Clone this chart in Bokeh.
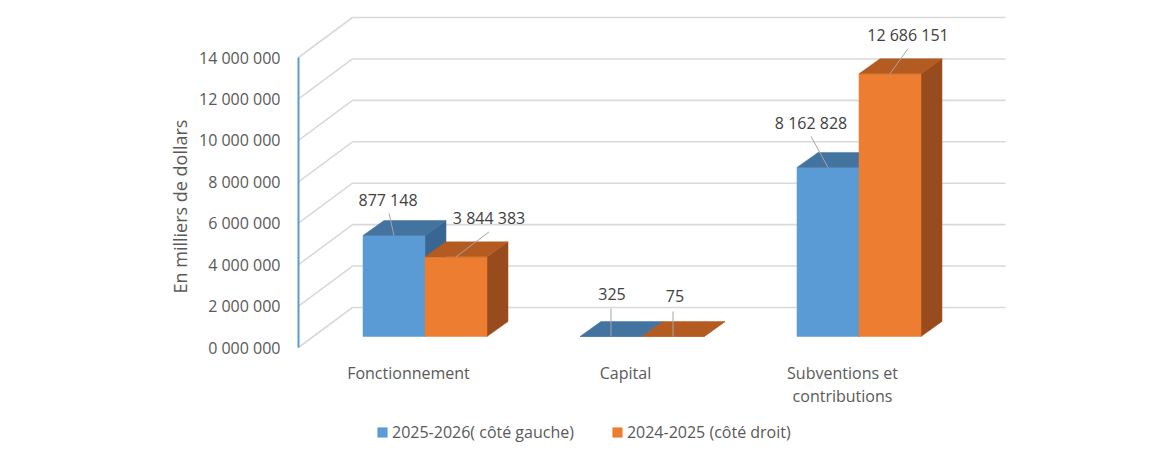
from bokeh.plotting import figure
from bokeh.models import Range1d, FixedTicker, Legend, LegendItem, Title
from bokeh.embed import file_html
from bokeh.resources import INLINE
from bokeh.core.properties import value

# ---------------- data ----------------
CATEGORIES = ["Fonctionnement", "Capital", "Subventions et\ncontributions"]
SERIES_NAMES = ["2025-2026( côté gauche)", "2024-2025 (côté droit)"]
VALUES_2025_2026 = [4877148, 325, 8162828]
VALUES_2024_2025 = [3844383, 75, 12686151]
LABELS_2025_2026 = ["877 148", "325", "8 162 828"]
LABELS_2024_2025 = ["3 844 383", "75", "12 686 151"]
Y_TICKS = [0, 2000000, 4000000, 6000000, 8000000, 10000000, 12000000, 14000000]
Y_TICK_LABELS = ["0 000 000", "2 000 000", "4 000 000", "6 000 000",
                 "8 000 000", "10 000 000", "12 000 000", "14 000 000"]
Y_AXIS_TITLE = "En milliers de dollars"

# ---------------- styles ----------------
FRONT = ["#5b9bd5", "#ed7d31"]
TOP = ["#43739f", "#b45b21"]
SIDE = ["#3a6791", "#984c1d"]
GRID = "#d9d9d9"
TEXT = "#595959"
LABEL_TEXT = "#404040"
FONT = "Open Sans"

# geometry (pixel based oblique projection)
PX_PER_CAT = 217.0
V_PER_PX = 14e6 / 290.0
FRAME_W, FRAME_H = 714, 433


def px_x(n):
    return n / PX_PER_CAT


def px_y(n):
    return n * V_PER_PX


X_START = px_x(-112)
Y_START = px_y(-96)
WALL_X = px_x(-110)
WALL_END = px_x(597)
DEPTH_X, DEPTH_Y = px_x(54), px_y(40)
BAR_W = px_x(62)
FRONT_X, FRONT_Y = px_x(16.5), px_y(11)
BDX, BDY = px_x(21), px_y(15)
CAT_LABEL_Y = px_y(-14)

# label offsets (px, up positive): text centre and leader start
LABEL_OFF = [[(-6, 35), (1, 42), (-17, 44)], [(33, 39), (2, 40), (18, 39)]]
LEADER_OFF = [[(-5, 22), (0, 28), (-17, 31)], [(33, 25), (0, 25), (18, 25)]]

p = figure(width=1154, height=443,
           x_range=Range1d(X_START, X_START + px_x(FRAME_W)),
           y_range=Range1d(Y_START, Y_START + px_y(FRAME_H)),
           output_backend="svg", toolbar_location=None,
           min_border_left=296, min_border_right=144,
           min_border_top=10, min_border_bottom=0)
p.title.visible = False
p.outline_line_color = None
p.grid.visible = False
p.background_fill_color = "white"
p.border_fill_color = "white"

# walls / gridlines
gx, gy = [], []
for t in Y_TICKS:
    gx.append([WALL_X, WALL_X + DEPTH_X, WALL_END])
    gy.append([t, t + DEPTH_Y, t + DEPTH_Y])
p.multi_line(gx, gy, line_color=GRID, line_width=1.6)
# blue vertical axis line at front-left
p.line([WALL_X, WALL_X], [Y_TICKS[0], Y_TICKS[-1]], line_color="#5b9bd5", line_width=2)

# bars
series_values = [VALUES_2025_2026, VALUES_2024_2025]
series_labels = [LABELS_2025_2026, LABELS_2024_2025]
front_renderers = []
for s, vals in enumerate(series_values):
    lefts, rights, bottoms, tops = [], [], [], []
    side_xs, side_ys, top_xs, top_ys = [], [], [], []
    for i, v in enumerate(vals):
        L = i - BAR_W + s * BAR_W + FRONT_X
        R = L + BAR_W
        B = FRONT_Y
        T = v + FRONT_Y
        lefts.append(L); rights.append(R); bottoms.append(B); tops.append(T)
        side_xs.append([R, R + BDX, R + BDX, R])
        side_ys.append([B, B + BDY, T + BDY, T])
        top_xs.append([L, R, R + BDX, L + BDX])
        top_ys.append([T, T, T + BDY, T + BDY])
    p.patches(side_xs, side_ys, fill_color=SIDE[s], line_color=SIDE[s], line_width=0.5)
    fr = p.quad(left=lefts, right=rights, bottom=bottoms, top=tops,
                fill_color=FRONT[s], line_color=FRONT[s], line_width=0.5)
    front_renderers.append(fr)
    p.patches(top_xs, top_ys, fill_color=TOP[s], line_color=TOP[s], line_width=0.5)

# data labels with leader lines
for s, vals in enumerate(series_values):
    lx, ly, x0, y0, x1, y1 = [], [], [], [], [], []
    for i, v in enumerate(vals):
        cx = i - BAR_W + s * BAR_W + FRONT_X + BAR_W / 2
        cy = v + FRONT_Y
        dx, dy = LABEL_OFF[s][i]
        lx.append(cx + px_x(dx)); ly.append(cy + px_y(dy))
        ldx, ldy = LEADER_OFF[s][i]
        x0.append(cx + px_x(ldx)); y0.append(cy + px_y(ldy))
        x1.append(cx); y1.append(cy)
    p.segment(x0, y0, x1, y1, line_color="#a6a6a6", line_width=1)
    p.text(lx, ly, text=series_labels[s], text_font=value(FONT), text_font_size="16px",
           text_color=LABEL_TEXT, text_align="center", text_baseline="middle")

# category labels (front floor)
p.text(list(range(len(CATEGORIES))), [CAT_LABEL_Y] * len(CATEGORIES), text=CATEGORIES,
       text_font=value(FONT), text_font_size="16px", text_color=TEXT,
       text_align="center", text_baseline="top", text_line_height=1.05)

# axes
p.xaxis.visible = False
p.yaxis.ticker = FixedTicker(ticks=Y_TICKS)
p.yaxis.major_label_overrides = {t: lab for t, lab in zip(Y_TICKS, Y_TICK_LABELS)}
p.yaxis.axis_line_color = None
p.yaxis.major_tick_line_color = None
p.yaxis.minor_tick_line_color = None
p.yaxis.major_label_standoff = 10
p.yaxis.major_label_text_font = FONT
p.yaxis.major_label_text_font_size = "16px"
p.yaxis.major_label_text_color = TEXT

p.add_layout(Title(text=Y_AXIS_TITLE, align="left", offset=150, standoff=8, text_font=FONT,
                   text_font_size="18px", text_font_style="normal", text_color=TEXT), "left")

legend = Legend(items=[LegendItem(label=SERIES_NAMES[k], renderers=[front_renderers[k]])
                       for k in range(2)],
                orientation="horizontal", glyph_width=12, glyph_height=12,
                label_standoff=4, spacing=37, padding=0, margin=0, label_height=18,
                border_line_color=None, background_fill_alpha=0,
                label_text_font=FONT, label_text_font_size="16px",
                label_text_color=TEXT, location=(80, 0))
p.add_layout(legend, "center")

open("out.html", "w").write(file_html(p, INLINE))
